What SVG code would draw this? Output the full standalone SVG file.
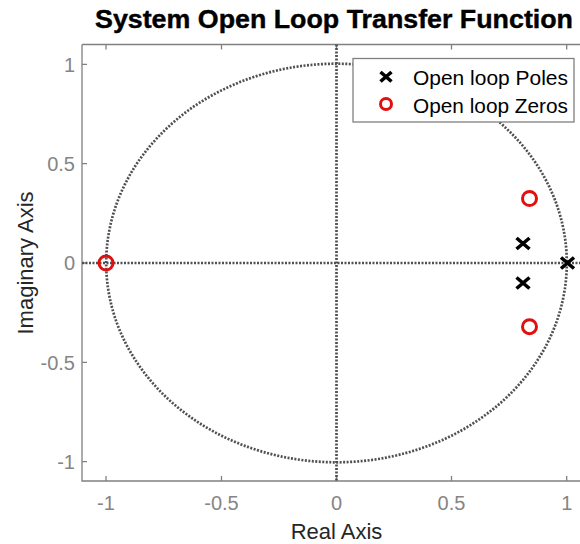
<svg xmlns="http://www.w3.org/2000/svg" width="580" height="544" viewBox="0 0 580 544">
<style>
text{font-family:"Liberation Sans",Arial,sans-serif}
.tick{font-size:20px;fill:#858585}
.lab{font-size:22px;fill:#262626}
.axis{stroke:#808080;stroke-width:1.3;fill:none}
.dot{stroke:#505050;stroke-width:2.7;stroke-dasharray:2 1.5;fill:none}
.pole{stroke:#000;stroke-width:3.6;fill:none}
.zero{stroke:#e01010;stroke-width:3;fill:none}
.leg{font-size:21px;fill:#000}
</style>
<rect width="580" height="544" fill="#fff"/>
<g id="title"><text x="95" y="28" font-size="25" font-weight="bold" stroke="#000" stroke-width="0.4" textLength="478" lengthAdjust="spacingAndGlyphs">System Open Loop Transfer Function</text></g>
<g id="axes">
<path class="axis" d="M82,44.5 H580 M82,44.5 V481 H580"/>
<path class="axis" d="M106,44.5v5M221.5,44.5v5M336.5,44.5v5M451.5,44.5v5M566.7,44.5v5M106,481v-5M221.5,481v-5M336.5,481v-5M451.5,481v-5M566.7,481v-5M82,64.3h5M82,163.6h5M82,263h5M82,362.4h5M82,461.7h5"/>
<g class="tick" text-anchor="middle">
<text x="106" y="510">-1</text><text x="221.5" y="510">-0.5</text><text x="336.5" y="510">0</text><text x="451.5" y="510">0.5</text><text x="566.7" y="510">1</text>
</g>
<g class="tick" text-anchor="end">
<text x="75" y="71.5">1</text><text x="75" y="170.8">0.5</text><text x="75" y="270.2">0</text><text x="75" y="369.6">-0.5</text><text x="75" y="468.9">-1</text>
</g>
<text class="lab" x="336.5" y="539" text-anchor="middle">Real Axis</text>
<text class="lab" transform="translate(33,263) rotate(-90)" text-anchor="middle">Imaginary Axis</text>
</g>
<g id="connectors">
<ellipse class="dot" cx="336.5" cy="263" rx="230.3" ry="199.3"/>
<path class="dot" d="M82,263 H580 M336.5,44.5 V481"/>
</g>
<g id="poles">
<path class="pole" d="M516.5,238l13,11m0,-11l-13,11M516.5,277.5l13,11m0,-11l-13,11M561,257.5l13,11m0,-11l-13,11"/>
</g>
<g id="zeros">
<circle class="zero" cx="529.5" cy="198.5" r="7"/>
<circle class="zero" cx="529.5" cy="326.7" r="7"/>
<circle class="zero" cx="106" cy="263" r="7"/>
</g>
<g id="legend">
<rect x="353" y="58.5" width="221" height="63.5" fill="#fff" stroke="#808080" stroke-width="1.3"/>
<path class="pole" d="M380.5,72l11,9.5m0,-9.5l-11,9.5"/>
<circle class="zero" cx="386" cy="104" r="5.5"/>
<text class="leg" x="413" y="85" textLength="155" lengthAdjust="spacingAndGlyphs">Open loop Poles</text>
<text class="leg" x="413" y="112.5" textLength="155" lengthAdjust="spacingAndGlyphs">Open loop Zeros</text>
</g>
</svg>
